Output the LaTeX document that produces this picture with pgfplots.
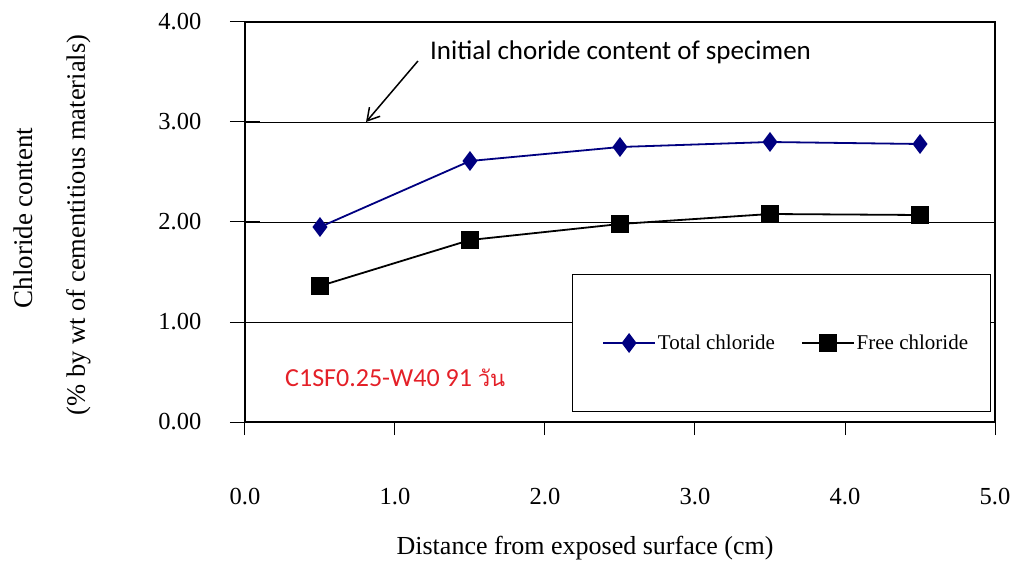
\documentclass[border=0pt]{standalone}
\usepackage{fontspec}
\setmainfont{Liberation Serif}
\newfontfamily\calibri{Carlito}
\newfontfamily\thaifont[Script=Thai]{Loma}
\usepackage{pgfplots}
\pgfplotsset{compat=1.18}
\usetikzlibrary{arrows.meta}
\definecolor{navyc}{RGB}{0,0,128}
\definecolor{redc}{RGB}{228,32,40}
\begin{document}
\begin{tikzpicture}
\begin{axis}[
  scale only axis, width=750pt, height=400pt,
  xmin=0, xmax=5, ymin=0, ymax=4,
  xtick={0,1,2,3,4,5}, ytick={0,1,2,3,4},
  axis line style={line width=1.6pt},
  ymajorgrids, grid style={black, line width=0.8pt},
  tick style={black, line width=1pt},
  tick pos=left,
  ytick align=center, xtick align=outside,
  ytick style={/pgfplots/major tick length=30pt},
  xtick style={/pgfplots/major tick length=13pt},
  /pgf/number format/assume math mode=true,
  yticklabel style={/pgf/number format/fixed, /pgf/number format/fixed zerofill, /pgf/number format/precision=2, font=\fontsize{24.5}{28}\selectfont, xshift=-38pt},
  xticklabel style={/pgf/number format/fixed, /pgf/number format/fixed zerofill, /pgf/number format/precision=1, font=\fontsize{24.5}{28}\selectfont, yshift=-58pt},
  clip=false,
  legend columns=2,
  legend style={draw=none, fill=none, at={(axis cs:2.38,0.79)}, anchor=west,
    font=\fontsize{21}{24}\selectfont, inner sep=0pt,
    /tikz/every even column/.append style={column sep=24pt}},
  legend image code/.code={\draw[mark repeat=2, mark phase=2, #1] plot coordinates {(0pt,0pt) (26pt,0pt) (52pt,0pt)};},
]
\draw[line width=0.8pt, fill=white] (axis cs:2.18,0.11) rectangle (axis cs:4.967,1.48);
\addplot[navyc, line width=1.8pt, mark=diamond*, mark size=8.5pt, mark options={solid, fill=navyc}]
  coordinates {(0.5,1.95) (1.5,2.61) (2.5,2.75) (3.5,2.80) (4.5,2.78)};
\addlegendentry{Total chloride}
\addplot[black, line width=1.8pt, mark=square*, mark size=8pt, mark options={solid, fill=black}]
  coordinates {(0.5,1.36) (1.5,1.82) (2.5,1.98) (3.5,2.08) (4.5,2.07)};
\addlegendentry{Free chloride}
\node[font=\calibri\fontsize{27}{30}\selectfont, anchor=west, inner sep=0pt] at (axis cs:1.233,3.70) {Initial choride content of specimen};
\draw[line width=1.5pt, -{Straight Barb[length=12pt, width=14pt]}] (axis cs:1.153,3.61) -- (axis cs:0.807,3.0);
\node[font=\calibri\fontsize{26}{30}\selectfont, text=redc, anchor=west, inner sep=0pt] at (axis cs:0.267,0.44) {C1SF0.25-W40 91 {\thaifont\fontsize{22}{26}\selectfont วัน}};
\node[rotate=90, font=\fontsize{27}{30}\selectfont] at (axis cs:-1.48,2.04) {Chloride content};
\node[rotate=90, font=\fontsize{26.5}{30}\selectfont] at (axis cs:-1.11,1.97) {(\% by wt of cementitious materials)};
\node[font=\fontsize{26}{30}\selectfont] at (axis cs:2.267,-1.26) {Distance from exposed surface (cm)};
\path (axis cs:-1.6333,-1.41) rectangle (axis cs:5.16,4.22);
\end{axis}
\end{tikzpicture}
\end{document}
